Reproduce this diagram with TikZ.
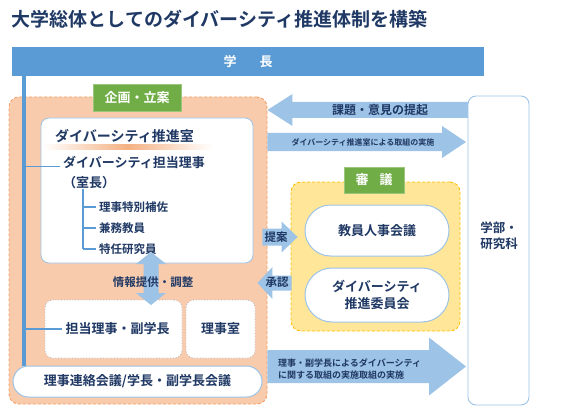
\documentclass[tikz,border=0pt]{standalone}
\usepackage{fontspec}
\setmainfont{Noto Sans CJK JP}[BoldFont={* Bold}]
\usetikzlibrary{calc,positioning}
\newcommand{\fsz}[2]{\fontsize{#1}{#2}\selectfont}
\definecolor{knavy}{RGB}{31,56,100}
\definecolor{kbar}{RGB}{91,155,213}
\definecolor{karrow}{RGB}{157,195,230}
\definecolor{korange}{RGB}{248,203,173}
\definecolor{korangeline}{RGB}{244,160,100}
\definecolor{kyellow}{RGB}{255,230,153}
\definecolor{kyellowline}{RGB}{255,192,0}
\definecolor{kgreen}{RGB}{112,173,71}
\definecolor{kline}{RGB}{157,195,230}
\definecolor{kdot}{RGB}{173,185,202}
\definecolor{kglow}{RGB}{244,177,131}
% block arrow: tail, tip, shaft half width, head half width, head length
\newcommand{\blockarrow}[5]{%
  \coordinate (ba) at ($(#2)!#5!(#1)$);
  \fill[arrowfill] ($(#1)!#3!90:(#2)$) -- ($(ba)!#3!90:(#2)$) -- ($(ba)!#4!90:(#2)$)
    -- (#2) -- ($(ba)!#4!-90:(#2)$) -- ($(ba)!#3!-90:(#2)$) -- ($(#1)!#3!-90:(#2)$) -- cycle;}
\tikzset{
  bar/.style={fill=kbar, minimum width=472pt, minimum height=29pt, inner sep=0,
              text=white, font=\bfseries\fsz{13}{15}},
  orangebox/.style={draw=korangeline, dash pattern=on 3pt off 2pt, fill=korange,
                    rounded corners=10pt, line width=0.9pt},
  yellowbox/.style={draw=kyellowline, dash pattern=on 3pt off 2pt, fill=kyellow,
                    rounded corners=10pt, line width=0.9pt},
  greentag/.style={fill=kgreen, draw=kgreen!70!white, line width=0.6pt, text=white,
                   inner sep=0, font=\bfseries\fsz{13}{15}},
  whitebox/.style={draw=kline, fill=white, rounded corners=8pt, line width=0.8pt},
  dotbox/.style={draw=kdot, dotted, fill=white, rounded corners=8pt, line width=0.8pt,
                 text=knavy, inner sep=0, font=\bfseries\fsz{13}{15}},
  pill/.style={draw=kline, fill=white, line width=1pt, text=knavy, inner sep=0,
               align=center, font=\bfseries\fsz{13}{17}},
  facbox/.style={draw=kline, fill=white, rounded corners=8pt, line width=0.9pt},
  headtext/.style={text=knavy, inner sep=0, font=\bfseries\fsz{14}{17}},
  bodytext/.style={text=knavy, inner sep=0, font=\bfseries\fsz{13}{20}},
  subtext/.style={text=knavy, inner sep=0, font=\bfseries\fsz{11.5}{14}},
  arrowtext/.style={text=knavy, inner sep=0, font=\bfseries\fsz{11.5}{14}},
  smalltext/.style={text=knavy, inner sep=0, font=\bfseries\fsz{8}{10}},
  arrowfill/.style={fill=karrow},
  spine/.style={draw=kbar, line width=4pt},
  tickline/.style={draw=kbar, line width=1.2pt},
}
\begin{document}
\begin{tikzpicture}[x=1pt,y=-1pt]
\useasboundingbox (0,0) rectangle (569,406);

% ---------------- title and president ----------------
\node[anchor=west, text=knavy, inner sep=0, font=\bfseries\fsz{19}{23}] (title) at (11.5,19.5)
  {大学総体としてのダイバーシティ推進体制を構築};
\node[bar] (gakucho) at (248,61.5) {学\hspace{23pt}長};

% ---------------- planning side ----------------
\node[orangebox, minimum width=258pt, minimum height=307pt] (kikaku) at (138,250.5) {};
\node[greentag, minimum width=88pt, minimum height=27pt] (kikakutag) at (137,97.5) {企画・立案};

\node[whitebox, minimum width=212pt, minimum height=145pt] (suishin) at (147,190.5) {};
\node[headtext, anchor=west] (suishintitle) at (55,136) {ダイバーシティ推進室};
\shade[left color=white, right color=white, middle color=kglow] (43,145) rectangle (212,149);

\node[bodytext, anchor=west, align=left] (tanto) at (63,173) {ダイバーシティ担当理事\\（室長）};
\draw[tickline] ([xshift=20pt]tanto.south west) -- (83,249);
\foreach \y/\t [count=\i] in {207/理事特別補佐, 228/兼務教員, 249/特任研究員} {
  \node[subtext, anchor=west] (sub\i) at (99,\y) {\t};
  \draw[tickline, shorten >=3pt] (83,\y) -- (sub\i.west);
}

\node[dotbox, minimum width=137pt, minimum height=58pt] (fuku) at (113.5,329)
  {\hspace{8pt}担当理事・副学長};
\node[dotbox, minimum width=69pt, minimum height=58pt] (rijishitsu) at (220.5,329) {理事室};
\node[pill, minimum width=249pt, minimum height=31pt, rounded corners=15.5pt] (renraku)
  at (137.5,381.5) {理事連絡会議/学長・副学長会議};

% president line down to the council
\coordinate (spinetop) at ([xshift=12pt]gakucho.south west);
\draw[spine] (spinetop) -- (spinetop |- renraku.north);
\draw[tickline] ([shift={(-3,-6.5)}]tanto.west) -- ++(-37,0);
\draw[tickline] ([xshift=17pt]fuku.west) -- ++(-38,0);

% information exchange between the office and the executives
\coordinate (jmid) at (151,280);
\blockarrow{jmid}{151,252}{7.5pt}{15pt}{12pt}
\blockarrow{jmid}{151,305}{7.5pt}{15pt}{12pt}
\node[arrowtext] (jouhou) at (153,282) {情報提供・調整};

% ---------------- deliberation side ----------------
\node[yellowbox, minimum width=169pt, minimum height=149pt] (shingi) at (375.5,256.5) {};
\node[greentag, minimum width=60pt, minimum height=26pt] (shingitag) at (374,180) {審\hspace{11pt}議};
\node[pill, minimum width=144pt, minimum height=51pt, rounded corners=25.5pt] (jinji)
  at (377,230.5) {教員人事会議};
\node[pill, minimum width=144pt, minimum height=54pt, rounded corners=27pt] (iinkai)
  at (377,295) {ダイバーシティ\\推進委員会};

\coordinate (teianA) at ($(kikaku.east |- 0,237)+(-5,0)$);
\coordinate (teianB) at ($(shingi.west |- 0,237)+(7,0)$);
\blockarrow{teianA}{teianB}{8.5pt}{15.5pt}{16pt}
\node[arrowtext] (teian) at (276,237.5) {提案};

\coordinate (shouninA) at ($(shingi.west |- 0,283)+(1,0)$);
\coordinate (shouninB) at ($(kikaku.east |- 0,283)+(-10,0)$);
\blockarrow{shouninA}{shouninB}{7.5pt}{16pt}{15pt}
\node[arrowtext] (shounin) at (277,282) {承認};

% ---------------- faculties ----------------
\coordinate (kadaiA) at (470,110);
\coordinate (kadaiB) at (kikaku.east |- 0,110);
\blockarrow{kadaiA}{kadaiB}{8pt}{16pt}{25pt}
\node[arrowtext, font=\bfseries\fsz{12}{14}] (kadai) at (380,110) {課題・意見の提起};

\coordinate (tori1A) at (kikaku.east |- 0,142);
\coordinate (tori1B) at (466,142);
\blockarrow{tori1A}{tori1B}{9pt}{16pt}{24pt}
\node[smalltext] (tori1) at (363,142) {ダイバーシティ推進室による取組の実施};

\coordinate (tori2A) at (kikaku.east |- 0,366.5);
\coordinate (tori2B) at (466,366.5);
\blockarrow{tori2A}{tori2B}{16.5pt}{29pt}{37pt}
\node[text=knavy, inner sep=0, font=\bfseries\fsz{9}{12}, align=left, anchor=west] (tori2)
  at (278,369) {理事・副学長によるダイバーシティ\\に関する取組の実施取組の実施};

\node[facbox, minimum width=61pt, minimum height=309pt] (gakubu) at (498.5,250.5) {};
\node[pill, draw=none, fill=none, font=\bfseries\fsz{12.5}{16.5}] (gakubutext) at (499,236)
  {学部・\\研究科};
\end{tikzpicture}
\end{document}
